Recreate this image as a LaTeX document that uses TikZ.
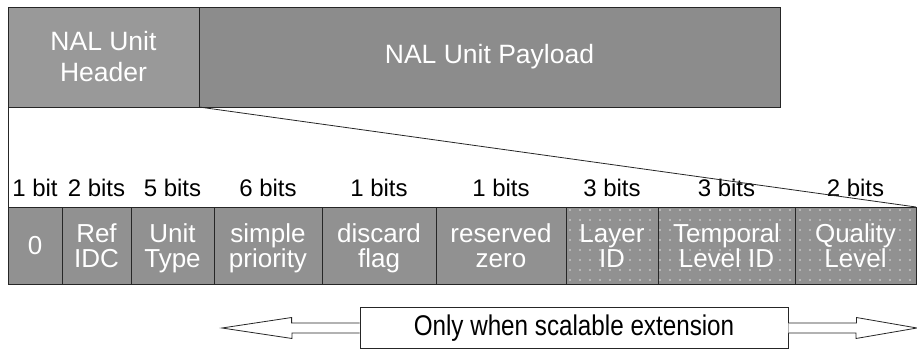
\documentclass[tikz,border=0pt]{standalone}
\usepackage{fontspec}
\setmainfont{Liberation Sans}
\newfontfamily\narrowfont[FakeStretch=0.85]{Liberation Sans}
\usetikzlibrary{positioning,patterns.meta}

\definecolor{hdrgray}{HTML}{999999}
\definecolor{paygray}{HTML}{8C8C8C}
\definecolor{cellgray}{HTML}{919191}
\definecolor{dotgray}{HTML}{DADADA}

\tikzset{
    field/.style={draw=black!85,line width=0.8pt,inner sep=0pt,outer sep=0pt,text=white,align=center},
    nalbox/.style={field,minimum height=100pt,font=\fontsize{26.5}{31}\selectfont},
    cell/.style={field,fill=cellgray,minimum height=77pt,text height=44pt,text depth=0pt,font=\fontsize{26}{25.5}\selectfont},
    ext/.style={cell,postaction={pattern={Dots[distance=10pt,radius=0.9pt]},pattern color=dotgray}},
    bits/.style={inner sep=0pt,font=\fontsize{24}{24}\selectfont},
    note/.style={draw=black!85,line width=0.8pt,fill=white,minimum width=428pt,minimum height=41pt,inner sep=0pt,font=\narrowfont\fontsize{28.5}{28.5}\selectfont},
    frame/.style={draw=black!85,line width=0.8pt},
    blockarrow/.style={draw=black!85,line width=0.8pt,fill=white}
}

\begin{document}
\begin{tikzpicture}[x=1pt,y=1pt]
    \useasboundingbox (0,0) rectangle (917,-350);

    % NAL unit
    \node[nalbox,fill=hdrgray,minimum width=191pt,anchor=north west] (header) at (8,-7) {NAL Unit\\Header};
    \node[nalbox,fill=paygray,minimum width=581pt] (payload) [right=0pt of header] {NAL Unit Payload};

    % header fields
    \node[cell,minimum width=54pt,text height=18.5pt,anchor=west] (c0) at (8,-245.5) {0};
    \node[cell,minimum width=69pt]  (c1) [right=0pt of c0] {Ref\\IDC};
    \node[cell,minimum width=83pt]  (c2) [right=0pt of c1] {Unit\\Type};
    \node[cell,minimum width=108pt] (c3) [right=0pt of c2] {simple\\priority};
    \node[cell,minimum width=114pt] (c4) [right=0pt of c3] {discard\\flag};
    \node[cell,minimum width=130pt] (c5) [right=0pt of c4] {reserved\\zero};
    \node[ext,minimum width=92pt]   (c6) [right=0pt of c5] {Layer\\ID};
    \node[ext,minimum width=137pt]  (c7) [right=0pt of c6] {Temporal\\Level ID};
    \node[ext,minimum width=121pt]  (c8) [right=0pt of c7] {Quality\\Level};

    \node[bits] (b0) [above=10pt of c0] {1 bit};
    \node[bits] (b1) [above=10pt of c1] {2 bits};
    \node[bits] (b2) [above=10pt of c2] {5 bits};
    \node[bits] (b3) [above=10pt of c3] {6 bits};
    \node[bits] (b4) [above=10pt of c4] {1 bits};
    \node[bits] (b5) [above=10pt of c5] {1 bits};
    \node[bits] (b6) [above=10pt of c6] {3 bits};
    \node[bits] (b7) [above=10pt of c7] {3 bits};
    \node[bits] (b8) [above=10pt of c8] {2 bits};

    \draw[frame] (header.south west) -- (c0.north west);
    \draw[frame] (header.south east) -- (c8.north east);

    % extension arrow
    \node[note] (ext) at (574,-328) {Only when scalable extension};
    \coordinate (ltip) at (222,-328);
    \coordinate (rtip) at (917,-328);
    \draw[blockarrow] ([yshift=5pt]ext.west) -- ++(-68,0) -- ++(0,5.5) -- (ltip)
        -- ++(70,-10.5) -- ++(0,5.5) -- ([yshift=-5pt]ext.west);
    \draw[blockarrow] ([yshift=5pt]ext.east) -- ++(68,0) -- ++(0,5.5) -- (rtip)
        -- ++(-61,-10.5) -- ++(0,5.5) -- ([yshift=-5pt]ext.east);
\end{tikzpicture}
\end{document}
